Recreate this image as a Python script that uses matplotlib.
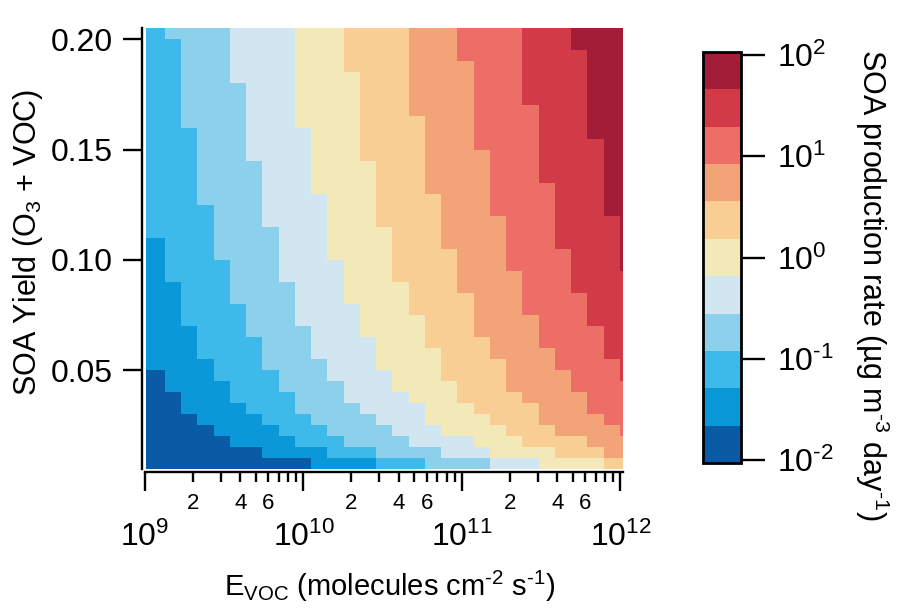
import numpy as np
import matplotlib
matplotlib.use('Agg')
import matplotlib.pyplot as plt
from matplotlib.colors import ListedColormap, BoundaryNorm, LogNorm
import matplotlib.ticker as mticker
import matplotlib.cm as cm

plt.rcParams['font.family'] = ['Liberation Sans', 'DejaVu Sans']
plt.rcParams['mathtext.fontset'] = 'custom'
plt.rcParams['mathtext.rm'] = 'Liberation Sans'
plt.rcParams['mathtext.it'] = 'Liberation Sans:italic'
plt.rcParams['mathtext.bf'] = 'Liberation Sans:bold'

# ---- data ----
# cell edges of emission rate (log10 of molecules cm-2 s-1)
log_e_edges = [9.006, 9.126, 9.2285, 9.331, 9.4335, 9.536, 9.6385, 9.741, 9.8435, 9.946,
               10.0485, 10.151, 10.2535, 10.356, 10.4585, 10.561, 10.6635, 10.766, 10.8685, 10.971,
               11.0735, 11.176, 11.2785, 11.381, 11.4835, 11.586, 11.6885, 11.791, 11.8935, 11.996, 12.016]
# cell edges of SOA yield
yield_edges = [0.005, 0.010, 0.015, 0.020, 0.025, 0.030, 0.035, 0.040, 0.045, 0.050,
               0.055, 0.060, 0.065, 0.070, 0.075, 0.080, 0.085, 0.090, 0.095, 0.100,
               0.105, 0.110, 0.115, 0.120, 0.125, 0.130, 0.135, 0.140, 0.145, 0.150,
               0.155, 0.160, 0.165, 0.170, 0.175, 0.180, 0.185, 0.190, 0.195, 0.200, 0.205]
# colour class of each cell (0 = lowest rate ... A = highest), top row first
rate_class_rows = [
    '23333444455566667778888999AAAA',
    '22333444455566667778888999AAAA',
    '223334444555666677788889999AAA',
    '223334444555666677778889999AAA',
    '223334444555566677778889999AAA',
    '223333444555566677778889999AAA',
    '223333444555566677778889999AAA',
    '223333444555566677778888999AAA',
    '223333444555566667778888999AAA',
    '222333444455566667778888999AAA',
    '2223334444555666677788889999AA',
    '2223334444555666677778889999AA',
    '2223333444555566677778889999AA',
    '2223333444555566677778889999AA',
    '2223333444555566677778888999AA',
    '2223333444455566667778888999AA',
    '2222333444455566667778888999AA',
    '22223334444555666677778889999A',
    '22223333444555566677778889999A',
    '12223333444555566677778889999A',
    '12223333444555566667778888999A',
    '12222333444455566667778888999A',
    '122223334444555666677778889999',
    '112223333444555566677778889999',
    '112223333444555566667778888999',
    '112222333444455566667778888999',
    '112222333444455556667777888999',
    '111222333344455556667777888899',
    '111222233344445556666777888899',
    '111222233344445555666777788899',
    '111122233334445555666677788889',
    '011122223334444555666677778889',
    '011112223333444555566677778888',
    '001112222333444455566667777888',
    '001111222333344445556666777888',
    '000111122233334445555666777788',
    '000011112223333444555566677778',
    '000001111222333344445556666777',
    '000000011112223333444555566677',
    '000000000011112223333444555566',
]
colors = ['#0a5ba5', '#0a98d8', '#3dbaea', '#8dd0eb', '#d1e6f0', '#f2e8b8',
          '#f8ce95', '#f3a378', '#ec6e66', '#d23a48', '#a21d37']
cbar_range = [10 ** -2.033, 10 ** 2.033]
cbar_ticks = [1e-2, 1e-1, 1e0, 1e1, 1e2]
cbar_ticklabels = [r'$10^{\text{-}2}$', r'$10^{\text{-}1}$', '$10^{0}$', '$10^{1}$', '$10^{2}$']
x_major = [1e9, 1e10, 1e11, 1e12]
x_major_labels = ['$10^{9}$', '$10^{10}$', '$10^{11}$', '$10^{12}$']
x_minor_labelled = [2, 4, 6]
y_ticks = [0.05, 0.10, 0.15, 0.20]
y_ticklabels = ['0.05', '0.10', '0.15', '0.20']

levels = np.array([[int(c, 16) for c in row] for row in rate_class_rows[::-1]])

W, H = 900, 609
fig = plt.figure(figsize=(9, 6.09), dpi=100)
ax = fig.add_axes([145 / W, (H - 469.3) / H, 478 / W, 441 / H])
cmap = ListedColormap(colors)
norm = BoundaryNorm(np.arange(-0.5, 11.5, 1), cmap.N)
ax.pcolormesh(10 ** np.array(log_e_edges), np.array(yield_edges), levels,
              cmap=cmap, norm=norm, shading='flat', edgecolor='none', antialiased=False)
ax.set_xscale('log')
ax.set_xlim(1e9, 10 ** 12.016)
ax.set_ylim(0.005, 0.205)
for s in ['top', 'right']:
    ax.spines[s].set_visible(False)
ax.spines['left'].set_position(('outward', 2))
ax.spines['bottom'].set_position(('outward', 2))
for s in ['left', 'bottom']:
    ax.spines[s].set_linewidth(1.7)

ax.set_yticks(y_ticks)
ax.set_yticklabels(y_ticklabels)
ax.tick_params(axis='y', which='major', direction='out', length=14, width=1.7, pad=7, labelsize=23)
ax.set_xticks(x_major)
ax.set_xticklabels(x_major_labels)
ax.xaxis.set_minor_locator(mticker.LogLocator(base=10, subs=range(2, 10), numticks=20))


def minor_fmt(v, pos):
    m = int(round(v / 10 ** np.floor(np.log10(v) + 1e-9)))
    return str(m) if m in x_minor_labelled else ''


ax.xaxis.set_minor_formatter(mticker.FuncFormatter(minor_fmt))
ax.tick_params(axis='x', which='major', direction='out', length=14, width=1.7, pad=22, labelsize=23)
ax.tick_params(axis='x', which='minor', direction='out', length=7, width=1.7, pad=8, labelsize=16)

fig.text(28 / W, 1 - 242 / H, 'SOA Yield (O$_3$ + VOC)', rotation=90, ha='center', va='center', fontsize=22)
fig.text(390 / W, 1 - 586 / H, r'E$_{\rm VOC}$ (molecules cm$^{\text{-}2}$ s$^{\text{-}1}$)',
         ha='center', va='center', fontsize=21)

cax = fig.add_axes([703 / W, (H - 463.3) / H, 38 / W, 411.6 / H])
sm = cm.ScalarMappable(norm=LogNorm(*cbar_range), cmap=cmap)
cb = fig.colorbar(sm, cax=cax)
cb.outline.set_linewidth(2)
cax.yaxis.set_major_locator(mticker.FixedLocator(cbar_ticks))
cax.yaxis.set_major_formatter(mticker.FixedFormatter(cbar_ticklabels))
cax.yaxis.set_minor_locator(mticker.NullLocator())
cax.tick_params(axis='y', which='major', direction='out', length=17, width=1.7, pad=9, labelsize=23)
fig.text(872 / W, 1 - 285 / H, r'SOA production rate (µg m$^{\text{-}3}$ day$^{\text{-}1}$)', rotation=270,
         ha='center', va='center', fontsize=22)

fig.savefig('out.png', dpi=100)
